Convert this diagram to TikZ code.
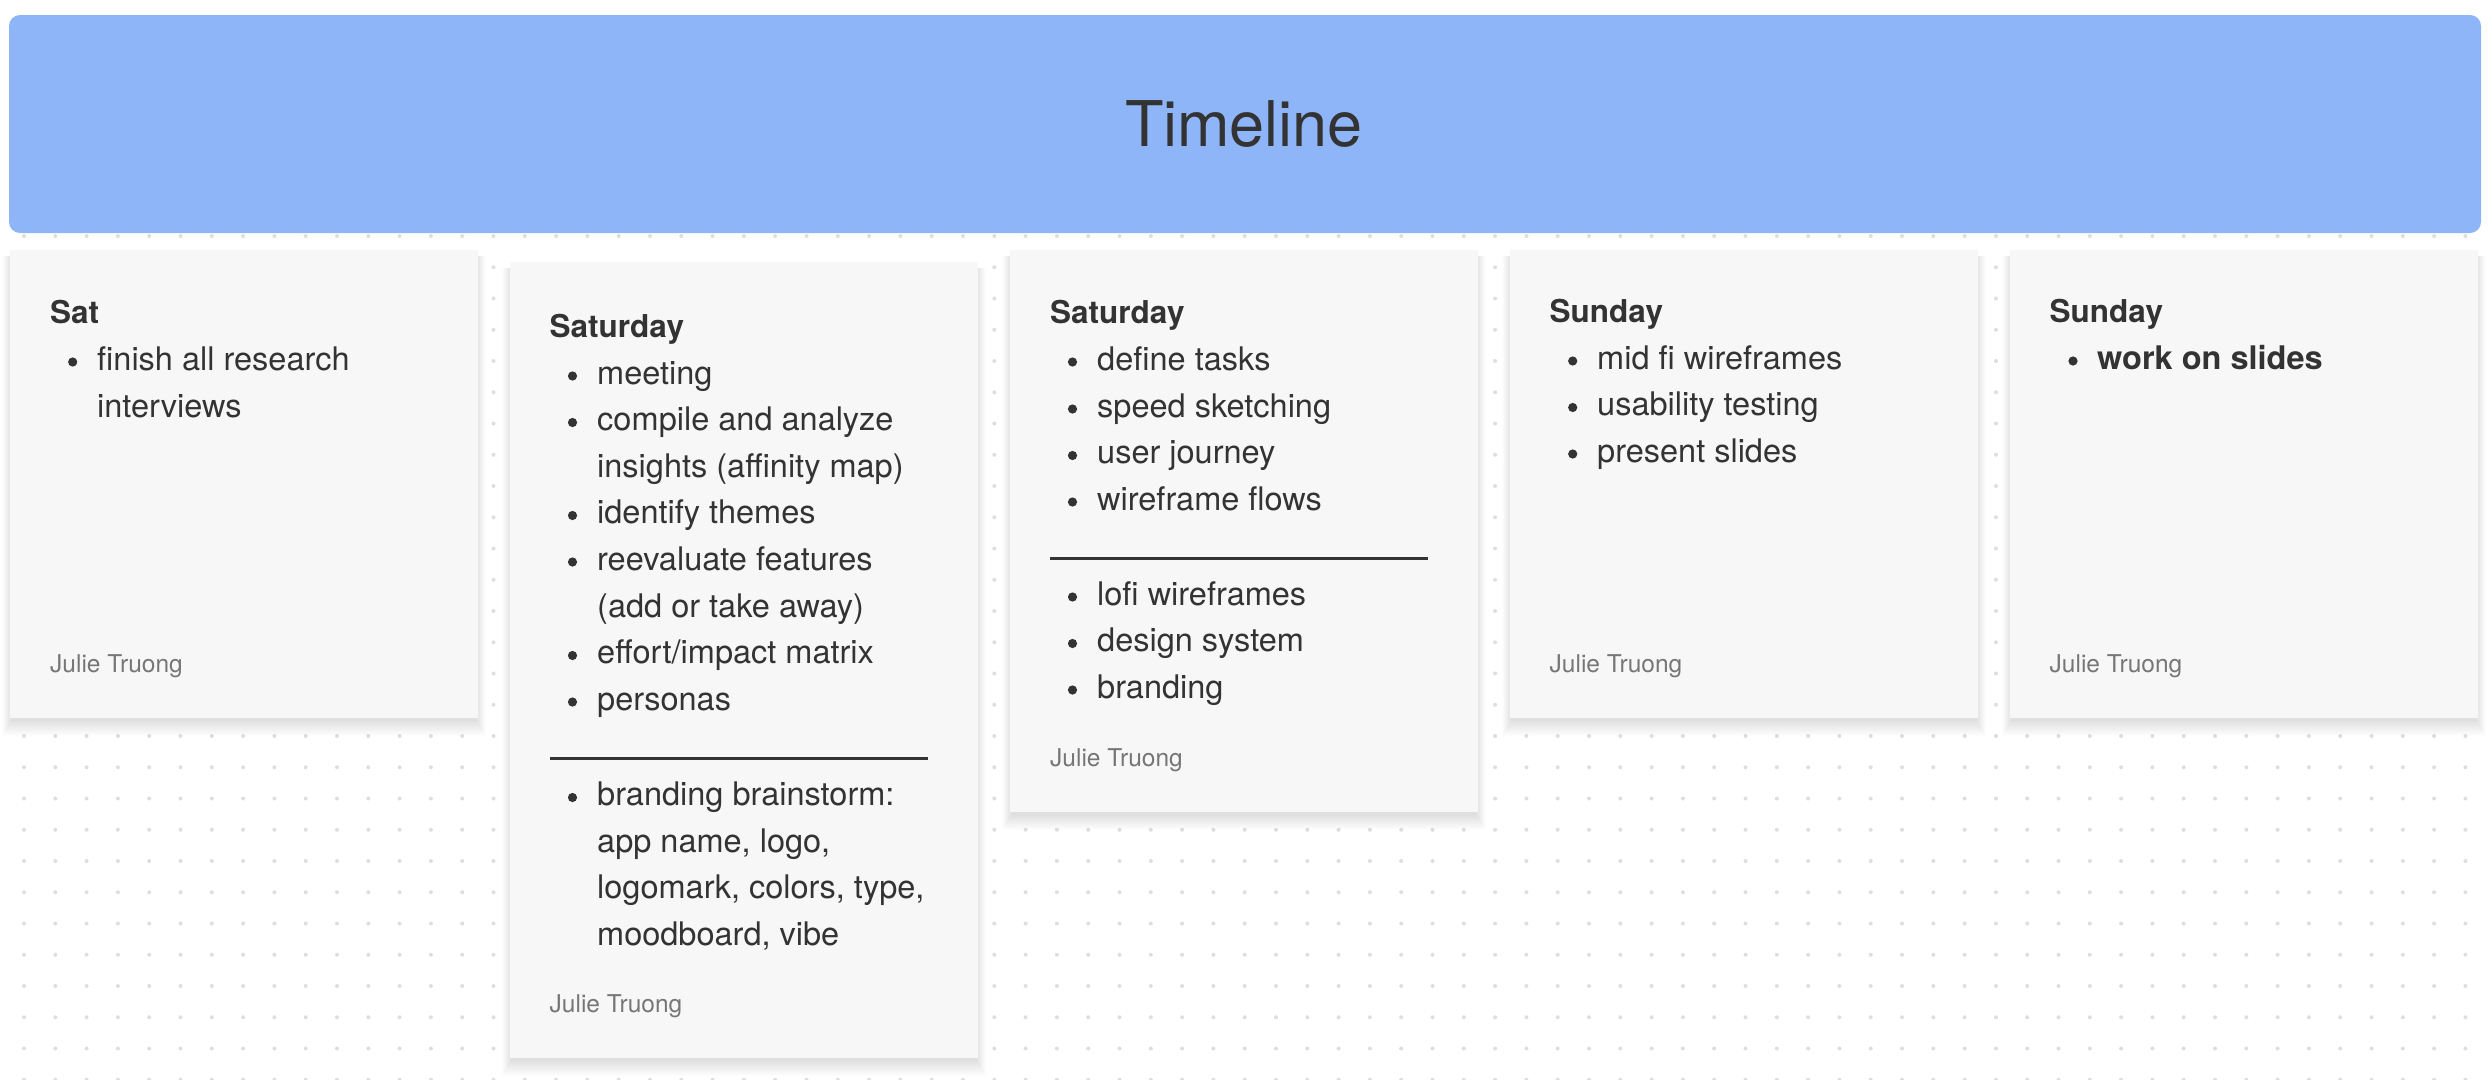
\documentclass[tikz,border=0pt]{standalone}
\usepackage{fontspec}
\setmainfont{TeX Gyre Heros}
\usetikzlibrary{fit}
\definecolor{bannerc}{HTML}{8EB5F8}
\definecolor{cardc}{HTML}{F7F7F7}
\definecolor{txtc}{HTML}{333333}
\definecolor{namec}{HTML}{767676}
\definecolor{dotc}{HTML}{DEDEDE}
\tikzset{
 banner/.style={fill=bannerc, rounded corners=11pt, inner sep=0pt},
 cardbox/.style={fill=cardc, inner sep=0pt},
 itemtxt/.style={anchor=base west, inner sep=0pt, text=txtc, font=\fontsize{32.5}{39}\selectfont},
 bolditem/.style={itemtxt, font=\fontsize{32.5}{39}\selectfont\bfseries},
 headtxt/.style={anchor=base west, inner sep=0pt, text=txtc, font=\fontsize{31.5}{38}\selectfont\bfseries},
 nametxt/.style={anchor=base west, inner sep=0pt, text=namec, font=\fontsize{24.5}{29}\selectfont},
 titletxt/.style={anchor=base, inner sep=0pt, text=txtc, font=\fontsize{63}{75}\selectfont},
 bul/.style={fill=txtc},
 seprule/.style={draw=txtc, line width=2.5pt},
}
\newcommand\cardshadow[4]{%
  \foreach \k in {1,...,16}{\fill[black,opacity=0.006] (#1+2-0.6*\k,#2+6) rectangle (#3-2+0.6*\k,#4+2+1.0*\k);}}
\newcommand\bulat[2]{\fill[bul] (#1,#2-8) circle (4.6pt);}
\begin{document}
\begin{tikzpicture}[x=1pt,y=-1pt]
\useasboundingbox (0,0) rectangle (2492,1079);
\fill[white] (0,0) rectangle (2492,1079);
% dot grid
\foreach \i in {0,...,79}{\foreach \j in {0,...,27}{\fill[dotc] (24+31.3*\i,236+31.25*\j) circle (2pt);}}
% banner
\node[banner, fit={(9,15)(2481,233)}] (banner) {};
\node[titletxt] (title) at (1244,146.7) {Timeline};
% shadows
\cardshadow{10}{250}{478}{718}
\cardshadow{510}{262}{978}{1058}
\cardshadow{1010}{250}{1478}{812}
\cardshadow{1510}{250}{1978}{718}
\cardshadow{2010}{250}{2478}{718}
% cards
\node[cardbox, fit={(10,250)(478,718)}] (c1) {};
\node[cardbox, fit={(510,262)(978,1058)}] (c2) {};
\node[cardbox, fit={(1010,250)(1478,812)}] (c3) {};
\node[cardbox, fit={(1510,250)(1978,718)}] (c4) {};
\node[cardbox, fit={(2010,250)(2478,718)}] (c5) {};
% card 1
\node[headtxt] (c1h) at (50,323) {Sat};
\bulat{72.7}{370}
\node[itemtxt] (c1a) at (97,370) {finish all research};
\node[itemtxt] (c1b) at (97,417) {interviews};
\node[nametxt] (c1n) at (50,672) {Julie Truong};
% card 2
\node[headtxt] (c2h) at (549.5,337) {Saturday};
\bulat{572.5}{384}
\node[itemtxt] (c2a) at (597,384) {meeting};
\bulat{572.5}{430.5}
\node[itemtxt] (c2b) at (597,430.5) {compile and analyze};
\node[itemtxt] (c2c) at (597,477) {insights (affinity map)};
\bulat{572.5}{523.5}
\node[itemtxt] (c2d) at (597,523.5) {identify themes};
\bulat{572.5}{570}
\node[itemtxt] (c2e) at (597,570) {reevaluate features};
\node[itemtxt] (c2f) at (597,617) {(add or take away)};
\bulat{572.5}{663.5}
\node[itemtxt] (c2g) at (597,663.5) {effort/impact matrix};
\bulat{572.5}{710}
\node[itemtxt] (c2i) at (597,710) {personas};
\coordinate (c2r1) at (549.5,758.5);
\coordinate (c2r2) at (927.7,758.5);
\draw[seprule] (c2r1) -- (c2r2);
\bulat{572.5}{805.5}
\node[itemtxt] (c2j) at (597,805.5) {branding brainstorm:};
\node[itemtxt] (c2k) at (597,852) {app name, logo,};
\node[itemtxt] (c2l) at (597,898.5) {logomark, colors, type,};
\node[itemtxt] (c2m) at (597,945) {moodboard, vibe};
\node[nametxt] (c2n) at (549.5,1012) {Julie Truong};
% card 3
\node[headtxt] (c3h) at (1050,323) {Saturday};
\bulat{1072.5}{370}
\node[itemtxt] (c3a) at (1097,370) {define tasks};
\bulat{1072.5}{417}
\node[itemtxt] (c3b) at (1097,417) {speed sketching};
\bulat{1072.5}{463.5}
\node[itemtxt] (c3c) at (1097,463.5) {user journey};
\bulat{1072.5}{510}
\node[itemtxt] (c3d) at (1097,510) {wireframe flows};
\coordinate (c3r1) at (1050,558.5);
\coordinate (c3r2) at (1427.7,558.5);
\draw[seprule] (c3r1) -- (c3r2);
\bulat{1072.5}{605}
\node[itemtxt] (c3e) at (1097,605) {lofi wireframes};
\bulat{1072.5}{651.5}
\node[itemtxt] (c3f) at (1097,651.5) {design system};
\bulat{1072.5}{698}
\node[itemtxt] (c3g) at (1097,698) {branding};
\node[nametxt] (c3n) at (1050,766.5) {Julie Truong};
% card 4
\node[headtxt] (c4h) at (1549.5,322) {Sunday};
\bulat{1572.7}{369}
\node[itemtxt] (c4a) at (1597,369) {mid fi wireframes};
\bulat{1572.7}{415.5}
\node[itemtxt] (c4b) at (1597,415.5) {usability testing};
\bulat{1572.7}{462}
\node[itemtxt] (c4c) at (1597,462) {present slides};
\node[nametxt] (c4n) at (1549.5,672) {Julie Truong};
% card 5
\node[headtxt] (c5h) at (2049.5,322) {Sunday};
\bulat{2073}{369}
\node[bolditem] (c5a) at (2097,369) {work on slides};
\node[nametxt] (c5n) at (2049.5,672) {Julie Truong};
\end{tikzpicture}
\end{document}
